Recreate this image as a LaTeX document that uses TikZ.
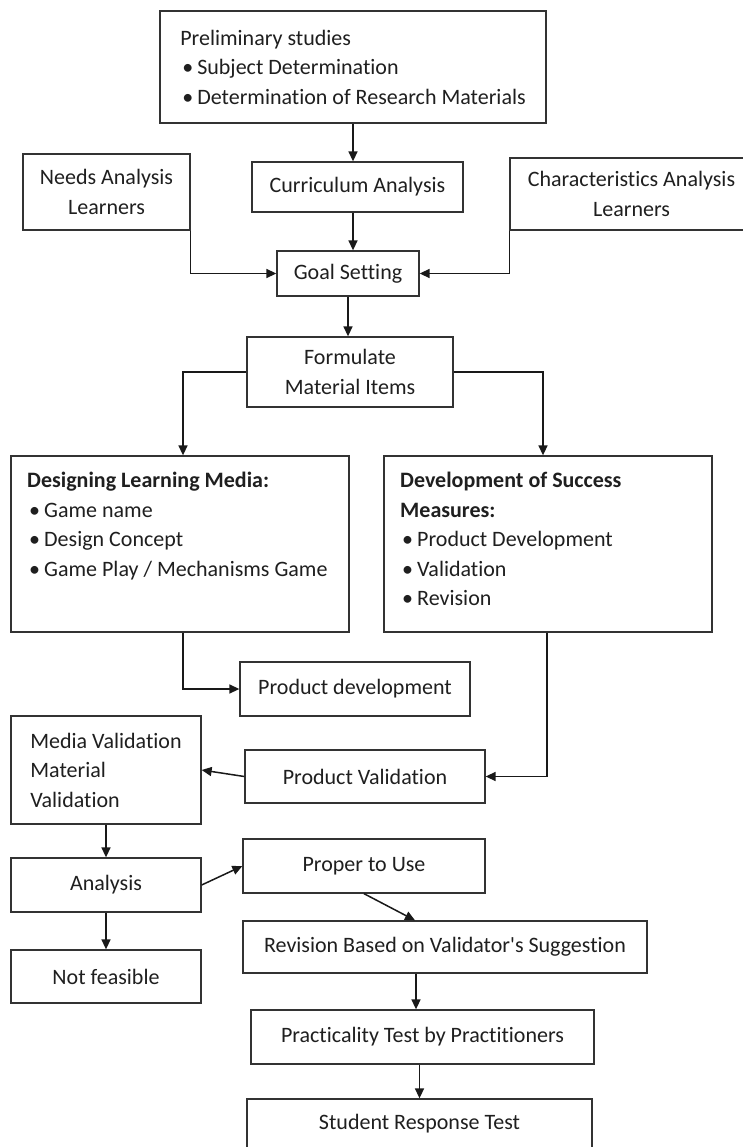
\documentclass[tikz,border=0pt]{standalone}
\usepackage{fontspec}
\setmainfont{Carlito}[Ligatures={TeX,NoCommon}]
\usetikzlibrary{arrows.meta,calc}
\newcommand\mainfs{\fontsize{22}{29.5}\selectfont}
\newcommand\mybul{\hspace*{2pt}\makebox[15pt][l]{\textbullet}}
\tikzset{
  box/.style={draw=black!80, line width=1.3pt, inner sep=0pt, align=center, font=\mainfs, text=black!88},
  txt/.style={inner sep=0pt, align=left, font=\mainfs, text=black!88},
  arr/.style={line width=1.5pt, draw=black!90, -{Triangle[length=10pt,width=9pt]}}
}
\begin{document}
\begin{tikzpicture}[x=1pt,y=-1pt]
\useasboundingbox (0,0) rectangle (743,1147);
\clip (0,0) rectangle (743,1147);
\fill[white] (0,0) rectangle (743,1147);

\node[box, align=left, minimum width=386pt, minimum height=112pt] (prelim) at (353,67)
  {Preliminary studies\\\mybul Subject Determination\\\mybul Determination of Research Materials};
\node[box, minimum width=167pt, minimum height=76pt] (needs) at (106.5,192) {Needs Analysis\\Learners};
\node[box, minimum width=211pt, minimum height=50pt] (curr) at (357.5,187) {Curriculum Analysis};
\node[box, minimum width=243pt, minimum height=72pt] (char) at (631.5,194) {Characteristics Analysis\\Learners};
\node[box, minimum width=142pt, minimum height=45pt] (goal) at (348,273.5) {Goal Setting};
\node[box, minimum width=206pt, minimum height=70pt] (form) at (350,372) {Formulate\\Material Items};

\node[box, minimum width=338pt, minimum height=176pt] (des) at (180,544) {};
\node[txt, anchor=north west] (destxt) at (27,472)
  {\textbf{Designing Learning Media:}\\\mybul Game name\\\mybul Design Concept\\\mybul Game Play / Mechanisms Game};
\node[box, minimum width=328pt, minimum height=176pt] (dev) at (548,544) {};
\node[txt, anchor=north west] (devtxt) at (400,472)
  {\textbf{Development of Success}\\\textbf{Measures:}\\\mybul Product Development\\\mybul Validation\\\mybul Revision};

\node[box, minimum width=230pt, minimum height=54pt] (pdev) at (355,689) {Product development};
\node[box, align=left, minimum width=190pt, minimum height=108pt] (media) at (106,770) {Media Validation\\Material\\Validation};
\node[box, minimum width=240pt, minimum height=53pt] (pval) at (365,776.5) {Product Validation};
\node[box, minimum width=190pt, minimum height=54pt] (ana) at (106,885) {Analysis};
\node[box, minimum width=242pt, minimum height=54pt] (proper) at (364,866) {Proper to Use};
\node[box, minimum width=190pt, minimum height=53pt] (nf) at (106,976.5) {Not feasible};
\node[box, minimum width=404pt, minimum height=52pt] (rev) at (445,947) {Revision Based on Validator\textquotesingle s Suggestion};
\node[box, minimum width=343pt, minimum height=54pt] (prac) at (422.5,1037) {Practicality Test by Practitioners};
\node[box, minimum width=345pt, minimum height=50pt] (stud) at (419.5,1124) {Student Response Test};

\draw[arr] (prelim.south) -- (prelim.south |- curr.north);
\draw[arr] (curr.south -| prelim.south) -- (goal.north -| prelim.south);
\draw[arr] (needs.south east) |- (goal.west);
\draw[arr] (char.south west) |- (goal.east);
\draw[arr] (goal.south) -- (goal.south |- form.north);
\draw[arr] (form.west) -| ([xshift=3pt]des.north);
\draw[arr] (form.east) -| ([xshift=-5pt]dev.north);
\draw[arr] ([xshift=3pt]des.south) |- (pdev.west);
\draw[arr] ([xshift=-1pt]dev.south) |- (pval.east);
\draw[arr] (pval.west) -- (media.east);
\draw[arr] (media.south) -- (ana.north);
\draw[arr] (ana.east) -- (proper.west);
\draw[arr] (ana.south) -- (nf.north);
\draw[arr] (proper.south) -- ([xshift=-30pt]rev.north);
\draw[arr] ([xshift=-29pt]rev.south) -- ([xshift=-29pt]rev.south |- prac.north);
\draw[arr] (stud.north |- prac.south) -- (stud.north);
\end{tikzpicture}
\end{document}
